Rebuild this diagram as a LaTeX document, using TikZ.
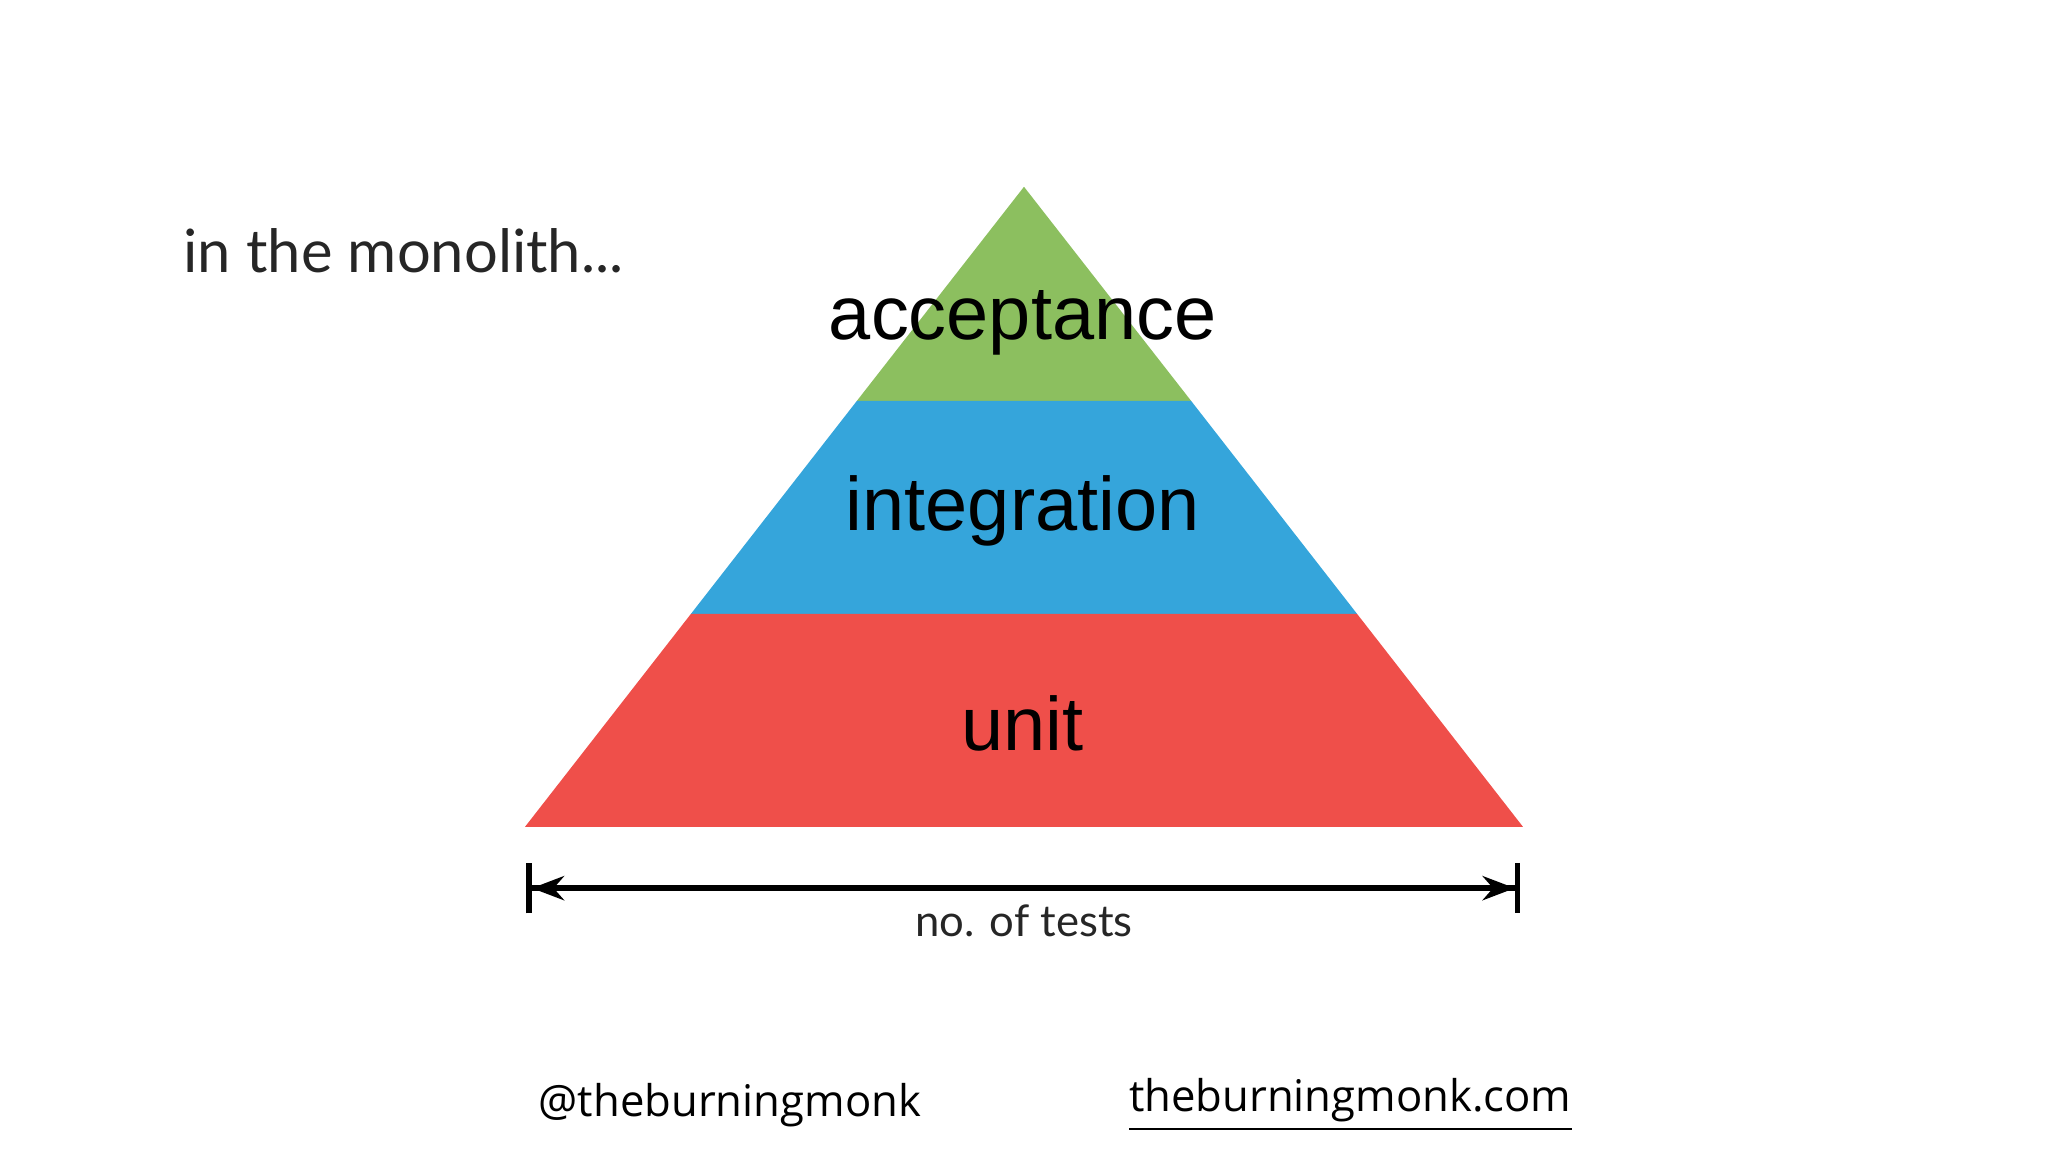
\documentclass[tikz,border=0pt]{standalone}
\usepackage{fontspec}
\setmainfont{Liberation Sans}
\newfontfamily\thinf{Lato}
\newfontfamily\footf{Open Sans}
\usetikzlibrary{arrows.meta}
\definecolor{cgreen}{HTML}{8CBF5F}
\definecolor{cblue}{HTML}{35A5DB}
\definecolor{cred}{HTML}{EF4F4A}
\tikzset{lbl/.style={font=\fontsize{16.5}{19}\selectfont,text=black},
thin/.style={font=\thinf\fontsize{13}{15}\selectfont,text=black!85}}
\begin{document}
\begin{tikzpicture}[x=0.01cm,y=-0.01cm]
\useasboundingbox (0,0) rectangle (1568,882);
\fill[cgreen] (784,143) -- (656,307) -- (912,307) -- cycle;
\fill[cblue] (656,307) -- (529,470) -- (1039,470) -- (912,307) -- cycle;
\fill[cred] (529,470) -- (402,633) -- (1166,633) -- (1039,470) -- cycle;
\node[lbl] (acc) at (783,247) {acceptance};
\node[lbl] (int) at (783,391) {integration};
\node[lbl] (unit) at (783,554) {unit};
\node[thin,anchor=west] (title) at (128,192) {in the monolith...};
\coordinate (al) at (403,680);
\coordinate (ar) at (1164,680);
\draw[line width=1.2pt,{Bar[width=11pt]Stealth[length=7pt]}-{Stealth[length=7pt]Bar[width=11pt]}] (al) -- (ar);
\node[font=\thinf\fontsize{9.5}{11}\selectfont,text=black!85] (nt) at (784,705) {no. of tests};
\node[font=\footf\fontsize{9.5}{11}\selectfont,anchor=west] (tw) at (400,846) {@theburningmonk};
\node[font=\footf\fontsize{9.5}{11}\selectfont,anchor=west] (web) at (852,846) {\underline{theburningmonk.com}};
\end{tikzpicture}
\end{document}
